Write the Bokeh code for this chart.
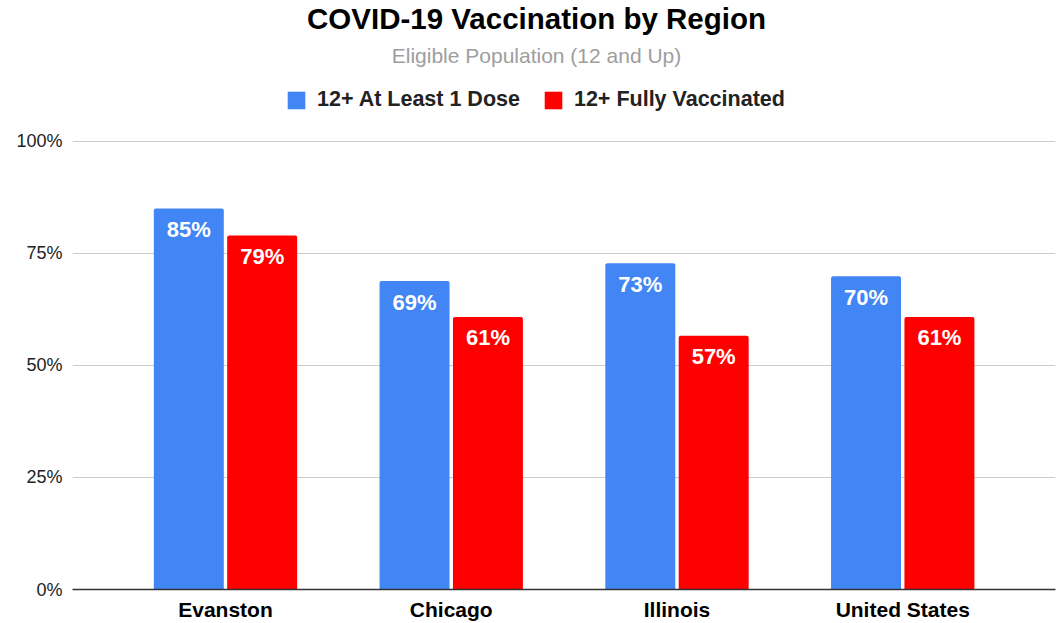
from bokeh.plotting import figure
from bokeh.models import (ColumnDataSource, Range1d, FixedTicker, NumeralTickFormatter,
                          LabelSet, Label, Legend, LegendItem)
from bokeh.core.properties import value
from bokeh.embed import file_html
from bokeh.resources import INLINE

# ---- data ----
regions = ["Evanston", "Chicago", "Illinois", "United States"]
at_least_one = [0.850, 0.688, 0.728, 0.699]
fully_vacc = [0.790, 0.608, 0.566, 0.608]
series_names = ["12+ At Least 1 Dose", "12+ Fully Vaccinated"]
y_ticks = [0, 0.25, 0.5, 0.75, 1.0]

BLUE = "#4285F4"
RED = "#FF0000"
FONT = "Liberation Sans"

idx = list(range(len(regions)))
off = 0.1625
bw = 0.31

p = figure(width=1061, height=623, output_backend="svg", toolbar_location=None,
           x_range=Range1d(-0.6777, 3.6767), y_range=Range1d(0, 1.31403),
           min_border_left=72, min_border_right=6, min_border_top=0,
           min_border_bottom=33, outline_line_color=None)

src1 = ColumnDataSource(dict(x=[i - off for i in idx], top=at_least_one,
                             lab=[f"{round(v*100)}%" for v in at_least_one]))
src2 = ColumnDataSource(dict(x=[i + off for i in idx], top=fully_vacc,
                             lab=[f"{round(v*100)}%" for v in fully_vacc]))

r1 = p.vbar(x="x", top="top", bottom=0, width=bw, source=src1, fill_color=BLUE,
            line_color=None, border_radius=(2, 2, 0, 0))
r2 = p.vbar(x="x", top="top", bottom=0, width=bw, source=src2, fill_color=RED,
            line_color=None, border_radius=(2, 2, 0, 0))

for s in (src1, src2):
    p.add_layout(LabelSet(x="x", y="top", text="lab", source=s, y_offset=-21,
                          text_align="center", text_baseline="middle",
                          text_color="white", text_font=value(FONT),
                          text_font_style="bold", text_font_size="22px"))

# axes
p.xaxis.ticker = FixedTicker(ticks=idx)
p.xaxis.major_label_overrides = {i: r for i, r in zip(idx, regions)}
p.xaxis.major_label_text_font = FONT
p.xaxis.major_label_text_font_style = "bold"
p.xaxis.major_label_text_font_size = "21px"
p.xaxis.major_label_text_color = "#000000"
p.xaxis.major_tick_line_color = None
p.xaxis.major_tick_out = 0
p.xaxis.major_tick_in = 0
p.xaxis.minor_tick_line_color = None
p.xaxis.minor_tick_out = 0
p.xaxis.axis_line_color = "#333333"
p.xaxis.axis_line_width = 1.5
p.xaxis.major_label_standoff = 8

p.yaxis.ticker = FixedTicker(ticks=y_ticks)
p.yaxis.formatter = NumeralTickFormatter(format="0%")
p.yaxis.major_label_text_font = FONT
p.yaxis.major_label_text_font_size = "18px"
p.yaxis.major_label_text_color = "#222222"
p.yaxis.major_tick_line_color = None
p.yaxis.major_tick_out = 0
p.yaxis.major_tick_in = 0
p.yaxis.minor_tick_line_color = None
p.yaxis.minor_tick_out = 0
p.yaxis.axis_line_color = None
p.yaxis.major_label_standoff = 10

p.xgrid.grid_line_color = None
p.ygrid.grid_line_color = "#cccccc"
p.ygrid.grid_line_width = 1.2

# title & subtitle
p.add_layout(Label(x=1.3777, y=1.2739, text="COVID-19 Vaccination by Region",
                   text_align="center", text_baseline="middle", text_font=FONT,
                   text_font_style="bold", text_font_size="29.5px", text_color="#000000"))
p.add_layout(Label(x=1.3777, y=1.1915, text="Eligible Population (12 and Up)",
                   text_align="center", text_baseline="middle", text_font=FONT,
                   text_font_size="21px", text_color="#9e9e9e"))

legend = Legend(items=[LegendItem(label=series_names[0], renderers=[r1]),
                       LegendItem(label=series_names[1], renderers=[r2])],
                orientation="horizontal", location=(213, 477),
                glyph_width=22, glyph_height=22, label_standoff=10, spacing=22,
                padding=0, margin=0, border_line_color=None, background_fill_alpha=0,
                label_text_font=FONT, label_text_font_style="bold",
                label_text_font_size="21.5px", label_text_color="#222222")
p.add_layout(legend, "center")

open("out.html", "w").write(file_html(p, INLINE))
